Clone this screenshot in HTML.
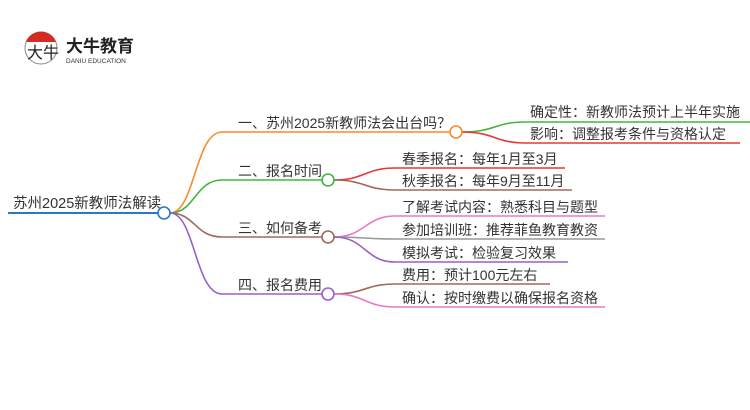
<!DOCTYPE html>
<html><head><meta charset="utf-8"><style>
body{margin:0;background:#fff;width:750px;height:410px;overflow:hidden;position:relative;font-family:"Liberation Sans","Noto Sans CJK SC",sans-serif}
svg{position:absolute;left:0;top:0}
text{font-family:"Liberation Sans","Noto Sans CJK SC",sans-serif;font-size:14px;fill:#333}
</style></head><body>
<svg width="750" height="410" viewBox="0 0 750 410">
<circle cx="41" cy="48" r="16" fill="#fff" stroke="#888" stroke-width="1"/>
<path d="M26,42 A16,16 0 0 1 56,42 Z" fill="#d62a22"/>
<text x="27" y="58" style="font-size:16px;fill:#222">大牛</text>
<text x="66" y="52" style="font-size:17px;font-weight:bold;fill:#222">大牛教育</text>
<text x="66" y="63" style="font-size:6.5px;fill:#333">DANIU EDUCATION</text>
<line x1="8" y1="213" x2="158" y2="213" stroke="#2c78c4" stroke-width="2"/>
<text x="13" y="208" style="font-size:14.5px">苏州2025新教师法解读</text>
<g fill="none" stroke-width="1.6">
<path d="M170,213 C195,213 195,132 222,132 L450,132" stroke="#f98b2a"/>
<path d="M170,213 C195,213 195,180 222,180 L322,180" stroke="#3db83d"/>
<path d="M170,213 C195,213 195,237 222,237 L322,237" stroke="#a06a5e"/>
<path d="M170,213 C195,213 195,294 222,294 L322,294" stroke="#9a5fc9"/>
<path d="M462,132 C495,132 495,122 525,122 L750,122" stroke="#3db83d"/>
<path d="M462,132 C495,132 495,143 525,143 L740,143" stroke="#e33"/>
<path d="M334,180 C365,180 365,168 395,168 L565,168" stroke="#e33"/>
<path d="M334,180 C365,180 365,190 395,190 L572,190" stroke="#a06a5e"/>
<path d="M334,237 C365,237 365,216 395,216 L605,216" stroke="#e878c8"/>
<path d="M334,237 C365,237 365,239 395,239 L605,239" stroke="#999"/>
<path d="M334,237 C365,237 365,262 395,262 L568,262" stroke="#9a5fc9"/>
<path d="M334,294 C365,294 365,284 395,284 L550,284" stroke="#a06a5e"/>
<path d="M334,294 C365,294 365,307 395,307 L605,307" stroke="#e878c8"/>
</g>
<circle cx="164" cy="213" r="6" fill="#fff" stroke="#2c78c4" stroke-width="1.6"/>
<circle cx="456" cy="132" r="6" fill="#fff" stroke="#f98b2a" stroke-width="1.6"/>
<circle cx="328" cy="180" r="6" fill="#fff" stroke="#3db83d" stroke-width="1.6"/>
<circle cx="328" cy="237" r="6" fill="#fff" stroke="#a06a5e" stroke-width="1.6"/>
<circle cx="328" cy="294" r="6" fill="#fff" stroke="#9a5fc9" stroke-width="1.6"/>
<text x="238" y="128">一、苏州2025新教师法会出台吗？</text>
<text x="238" y="176">二、报名时间</text>
<text x="238" y="233">三、如何备考</text>
<text x="238" y="290">四、报名费用</text>
<text x="530" y="117">确定性：新教师法预计上半年实施</text>
<text x="530" y="139">影响：调整报考条件与资格认定</text>
<text x="402" y="164">春季报名：每年1月至3月</text>
<text x="402" y="186">秋季报名：每年9月至11月</text>
<text x="402" y="212">了解考试内容：熟悉科目与题型</text>
<text x="402" y="235">参加培训班：推荐菲鱼教育教资</text>
<text x="402" y="258">模拟考试：检验复习效果</text>
<text x="402" y="280">费用：预计100元左右</text>
<text x="402" y="303">确认：按时缴费以确保报名资格</text>
</svg>
</body></html>
